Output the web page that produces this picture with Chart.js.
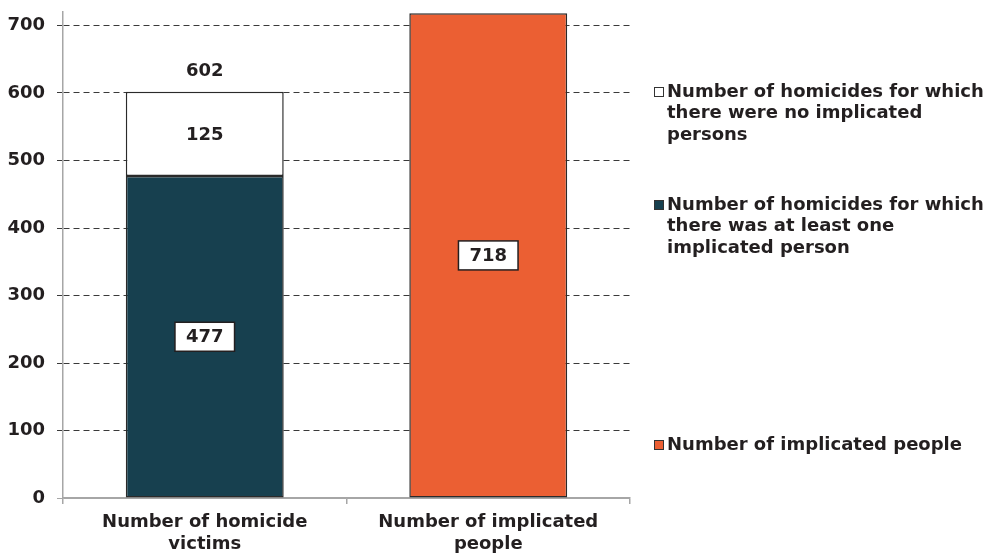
<!DOCTYPE html>
<html>
<head>
<meta charset="utf-8">
<script src="https://cdn.jsdelivr.net/npm/chart.js@4.4.1/dist/chart.umd.min.js"></script>
<style>
  html, body { margin: 0; padding: 0; background: #fff; }
  #wrap { width: 990px; height: 554px; position: relative; }
</style>
</head>
<body>
<div id="wrap"><canvas id="homicides"></canvas></div>
<script>
// Categories and series
const categories = [['Number of homicide', 'victims'], ['Number of implicated', 'people']];
const withImplicated = [477, null];
const noImplicated = [125, null];
const implicatedPeople = [null, 718];
const seriesNames = [
  'Number of homicides for which there was at least one implicated person',
  'Number of homicides for which there were no implicated persons',
  'Number of implicated people'
];
const yTicks = [0, 100, 200, 300, 400, 500, 600, 700];

const FONT = '"DejaVu Sans", Verdana, sans-serif';
const INK = '#231F20';
const AXIS_GREY = '#A6A6A6';

// Value labels: boxed inside the segment, plain, and the stack total on top
const valueLabels = {
  id: 'valueLabels',
  afterDatasetsDraw(chart) {
    const ctx = chart.ctx;
    ctx.save();
    ctx.font = 'bold 18px ' + FONT;
    ctx.textAlign = 'center';
    ctx.textBaseline = 'middle';
    chart.data.datasets.forEach((ds, di) => {
      const meta = chart.getDatasetMeta(di);
      meta.data.forEach((bar, i) => {
        const v = ds.data[i];
        if (v == null) return;
        const cy = (bar.y + bar.base) / 2;
        const txt = String(v);
        if (ds.boxed) {
          const w = ctx.measureText(txt).width + 22;
          const h = 29;
          ctx.fillStyle = '#fff';
          ctx.fillRect(bar.x - w / 2, cy - h / 2, w, h);
          ctx.lineWidth = 1.5;
          ctx.strokeStyle = INK;
          ctx.strokeRect(bar.x - w / 2, cy - h / 2, w, h);
        }
        ctx.fillStyle = INK;
        ctx.fillText(txt, bar.x, cy + 1);
      });
    });
    // total of the first stack
    const total = withImplicated[0] + noImplicated[0];
    const top = chart.getDatasetMeta(1).data[0];
    ctx.fillStyle = INK;
    ctx.fillText(String(total), top.x, chart.scales.y.getPixelForValue(total) - 20);
    ctx.restore();
  }
};

// Legend spread down the right side
const sideLegend = {
  id: 'sideLegend',
  afterDraw(chart) {
    const ctx = chart.ctx;
    const entries = [
      { ds: 1, y: 92 },
      { ds: 0, y: 205 },
      { ds: 2, y: 445 }
    ];
    ctx.save();
    ctx.font = 'bold 18px ' + FONT;
    ctx.textBaseline = 'middle';
    ctx.textAlign = 'left';
    entries.forEach(e => {
      const ds = chart.data.datasets[e.ds];
      ctx.fillStyle = ds.backgroundColor;
      ctx.fillRect(654, e.y - 5, 10, 10);
      ctx.lineWidth = 1;
      ctx.strokeStyle = '#333';
      ctx.strokeRect(654.5, e.y - 4.5, 9, 9);
      // wrap the label to the space on the right
      const words = ds.label.split(' ');
      const lines = [];
      let line = '';
      words.forEach(w => {
        const t = line ? line + ' ' + w : w;
        if (ctx.measureText(t).width > 322 && line) {
          lines.push(line);
          line = w;
        } else {
          line = t;
        }
      });
      lines.push(line);
      ctx.fillStyle = INK;
      lines.forEach((l, k) => ctx.fillText(l, 667, e.y + k * 21.5));
    });
    ctx.restore();
  }
};

const data = {
  labels: categories,
  datasets: [
    {
      label: seriesNames[0],
      data: withImplicated,
      backgroundColor: '#17404F',
      boxed: true
    },
    {
      label: seriesNames[1],
      data: noImplicated,
      backgroundColor: '#FFFFFF',
      boxed: false
    },
    {
      label: seriesNames[2],
      data: implicatedPeople,
      backgroundColor: '#EB5F33',
      boxed: true
    }
  ]
};
data.datasets.forEach(ds => {
  ds.borderColor = '#2A2A2A';
  ds.borderWidth = 1.5;
  ds.borderSkipped = false;
  ds.categoryPercentage = 1;
  ds.barPercentage = 0.557;
});

new Chart(document.getElementById('homicides'), {
  type: 'bar',
  data: data,
  plugins: [valueLabels, sideLegend],
  options: {
    responsive: true,
    maintainAspectRatio: false,
    animation: false,
    layout: { padding: { left: 0, right: 360, top: 12, bottom: 0 } },
    plugins: {
      legend: { display: false },
      tooltip: { enabled: false }
    },
    scales: {
      x: {
        stacked: true,
        grid: {
          offset: true,
          drawOnChartArea: false,
          color: AXIS_GREY,
          tickLength: 6,
          lineWidth: 1.5
        },
        border: { color: AXIS_GREY, width: 1.5 },
        ticks: {
          color: INK,
          padding: 8,
          maxRotation: 0,
          font: { family: FONT, size: 18, weight: 'bold', lineHeight: 1.2 }
        },
        afterFit(scale) { scale.height = 56; }
      },
      y: {
        stacked: true,
        min: 0,
        max: 720,
        afterBuildTicks(scale) { scale.ticks = yTicks.map(v => ({ value: v })); },
        grid: {
          color: ctx => ctx.tick && ctx.tick.value === 0 ? AXIS_GREY : '#3A3A3A',
          tickLength: 6,
          lineWidth: 1,
          tickBorderDash: ctx => ctx.tick && ctx.tick.value === 0 ? [] : [6, 4]
        },
        border: {
          color: AXIS_GREY,
          width: 1.5,
          dash: ctx => ctx.tick && ctx.tick.value === 0 ? [] : [6, 4]
        },
        ticks: {
          color: INK,
          padding: 12,
          font: { family: FONT, size: 18, weight: 'bold' }
        },
        afterFit(scale) {
          scale.width = 63;
          scale.paddingTop = 0;
          scale.paddingBottom = 0;
        }
      }
    }
  }
});
</script>
</body>
</html>
